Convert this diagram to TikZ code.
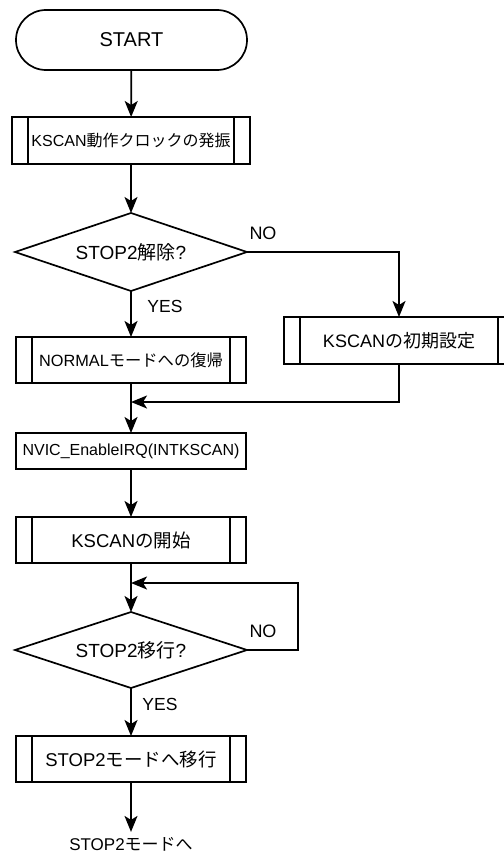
\documentclass[tikz,border=0pt]{standalone}
\usepackage{fontspec}
\setmainfont{Liberation Sans}
\newfontfamily\jp{Noto Sans CJK JP}
\usetikzlibrary{shapes.geometric,arrows.meta}

\tikzset{
  every node/.style={inner sep=0pt, outer sep=0pt},
  flow/.style={line width=1.7bp},
  arr/.style={flow, -{Stealth[length=16bp,width=13bp,inset=4bp]}},
  terminal/.style={draw, flow, rectangle, rounded corners=30bp,
    minimum width=231bp, minimum height=60bp},
  procbox/.style={draw, flow, rectangle, minimum width=230bp, minimum height=36bp},
  subbox/.style={draw, flow, rectangle, minimum width=230bp, minimum height=46bp,
    path picture={
      \draw[line width=1.7bp]
        ([xshift=16bp]path picture bounding box.north west) --
        ([xshift=16bp]path picture bounding box.south west);
      \draw[line width=1.7bp]
        ([xshift=-16bp]path picture bounding box.north east) --
        ([xshift=-16bp]path picture bounding box.south east);
    }},
  decision/.style={draw, flow, diamond, aspect=3, minimum width=232bp, minimum height=78bp},
  lbl/.style={font=\fontsize{18bp}{21bp}\selectfont}
}

\begin{document}
\begin{tikzpicture}[x=1bp, y=-1bp]
\useasboundingbox (0,0) rectangle (504,852);
\clip (0,0) rectangle (504,852);
\fill[white] (0,0) rectangle (504,852);

% main column
\node[terminal, font=\fontsize{20bp}{24bp}\selectfont] (start) at (131.5,40) {START};
\node[subbox, minimum width=238bp, minimum height=47bp, font=\fontsize{16bp}{19bp}\selectfont]
  (osc) at (131,140.5) {KSCAN{\jp 動作クロックの発振}};
\node[decision, font=\fontsize{19bp}{22bp}\selectfont] (d1) at (131,252) {STOP2{\jp 解除}?};
\node[subbox, font=\fontsize{16.3bp}{19bp}\selectfont] (normal) at (131,360) {NORMAL{\jp モードへの復帰}};
\node[procbox, font=\fontsize{16bp}{19bp}\selectfont] (nvic) at (131,451) {NVIC\_EnableIRQ(INTKSCAN)};
\node[subbox, font=\fontsize{18.5bp}{22bp}\selectfont] (kstart) at (131,540) {KSCAN{\jp の開始}};
\node[decision, minimum height=76bp, font=\fontsize{19bp}{22bp}\selectfont] (d2) at (131,650) {STOP2{\jp 移行}?};
\node[subbox, font=\fontsize{18.5bp}{22bp}\selectfont] (stop) at (131,759) {STOP2{\jp モードへ移行}};
\node[anchor=base, inner ysep=5bp, font=\fontsize{17bp}{20bp}\selectfont] (out) at (131,850) {STOP2{\jp モードへ}};

% side branch
\node[subbox, minimum height=47bp, font=\fontsize{18bp}{21bp}\selectfont] (init) at (399,340.5) {KSCAN{\jp の初期設定}};

% merge points
\coordinate (m1) at (131,402);
\coordinate (m2) at (131,583);
\coordinate (lp) at (298,583);

% branch labels
\node[lbl] (no1) at (263,233) {NO};
\node[lbl, font=\fontsize{17.5bp}{21bp}\selectfont] (yes1) at (165,306) {YES};
\node[lbl] (no2) at (263,631) {NO};
\node[lbl, font=\fontsize{17.5bp}{21bp}\selectfont] (yes2) at (160,704) {YES};

% connectors
\draw[arr] (start) -- (osc);
\draw[arr] (osc) -- (d1.north);
\draw[arr] (d1.south) -- (normal);
\draw[arr] (d1.east) -| (init.north);
\draw[arr] (init.south) |- (m1);
\draw[arr] (normal) -- (nvic);
\draw[arr] (nvic) -- (kstart);
\draw[arr] (kstart) -- (d2.north);
\draw[arr] (d2.east) -| (lp) -- (m2);
\draw[arr] (d2.south) -- (stop);
\draw[arr] (stop) -- (out.north);
\end{tikzpicture}
\end{document}
